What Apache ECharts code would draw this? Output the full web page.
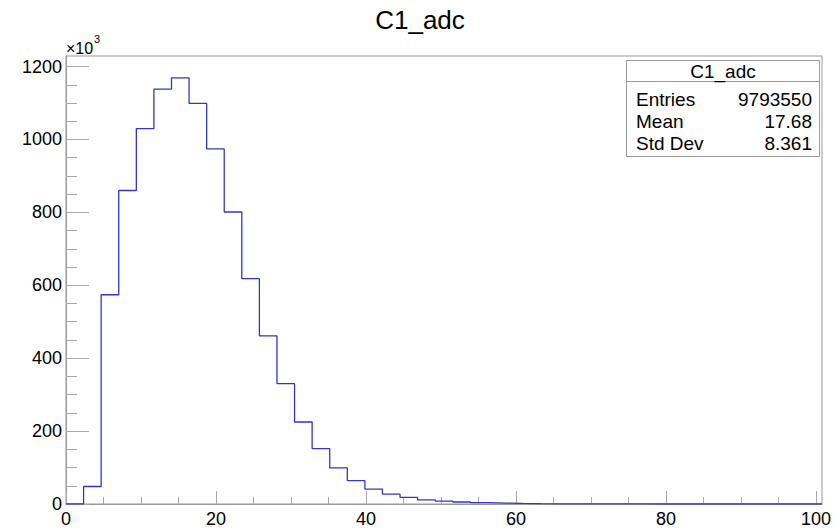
<!DOCTYPE html>
<html><head><meta charset="utf-8">
<script src="https://cdn.jsdelivr.net/npm/echarts@6/dist/echarts.min.js"></script>
<style>html,body{margin:0;padding:0;background:#fff}#c{width:840px;height:531px}</style>
</head><body><div id="c"></div>
<script>
// ---- data ----
const histTitle = 'C1_adc';
const xMin = 0;
const xMax = 100.8;
const nBins = 43;
const binCounts = [0, 48, 574, 860, 1030, 1138, 1169, 1099, 974, 801,
  618, 461, 330, 225, 152, 99, 64, 41, 27, 18,
  11.5, 8, 5.5, 3.5, 2.5, 1.5, 1, 0.6, 0.4, 0.3,
  0.2, 0.15, 0.1, 0.05, 0, 0, 0, 0, 0, 0,
  0, 0, 0]; // in units of 10^3
const yMax = 1229;
const xMajorTicks = [0, 20, 40, 60, 80, 100];
const xMinorTicks = [5, 10, 15, 25, 30, 35, 45, 50, 55, 65, 70, 75, 85, 90, 95];
const yMajorTicks = [0, 200, 400, 600, 800, 1000, 1200];
const yMinorTicks = [50, 100, 150, 250, 300, 350, 450, 500, 550, 650, 700, 750, 850, 900, 950, 1050, 1100, 1150];
const statLabels = ['Entries', 'Mean', 'Std Dev'];
const statValues = ['9793550', '17.68', '8.361'];

// ---- build ----
const binWidth = (xMax - xMin) / nBins;
const stepData = binCounts.map((v, k) => [xMin + k * binWidth, v]);
stepData.push([xMin + nBins * binWidth, binCounts[nBins - 1]]);

const font = 'Liberation Sans, Arial, Helvetica, sans-serif';
const gridPos = { left: 66, top: 56, width: 756, height: 448 };
const lineGray = '#999';
const tickGray = '#aaa';
const plain = v => String(v);

const chart = echarts.init(document.getElementById('c'), null, { renderer: 'svg' });

const statElems = [
  { type: 'rect', shape: { x: 626.5, y: 60.5, width: 193, height: 96 },
    style: { fill: '#fff', stroke: '#999', lineWidth: 1 }, z: 100 },
  { type: 'line', shape: { x1: 626.5, y1: 81.5, x2: 819.5, y2: 81.5 },
    style: { stroke: '#999', lineWidth: 1 }, z: 101 },
  { type: 'text', x: 723, y: 71, z: 101,
    style: { text: histTitle, font: '19px ' + font, fill: '#000', textAlign: 'center', textVerticalAlign: 'middle' } }
];
statLabels.forEach((lab, i) => {
  statElems.push({ type: 'text', x: 636, y: 99 + i * 22, z: 101,
    style: { text: lab, font: '19px ' + font, fill: '#000', textAlign: 'left', textVerticalAlign: 'middle' } });
  statElems.push({ type: 'text', x: 812, y: 99 + i * 22, z: 101,
    style: { text: statValues[i], font: '19px ' + font, fill: '#000', textAlign: 'right', textVerticalAlign: 'middle' } });
});

const option = {
  backgroundColor: '#fff',
  animation: false,
  title: {
    text: histTitle, left: 'center', top: 2,
    textStyle: { fontFamily: font, fontSize: 26, fontWeight: 'normal', color: '#000' }
  },
  grid: [
    Object.assign({ show: true, borderColor: lineGray, borderWidth: 1, backgroundColor: 'transparent' }, gridPos),
    Object.assign({ show: false }, gridPos)
  ],
  xAxis: [
    { type: 'value', gridIndex: 0, min: xMin, max: xMax, position: 'bottom',
      axisLine: { show: true, onZero: false, lineStyle: { color: lineGray, width: 1 } },
      axisTick: { show: true, inside: true, length: 13, customValues: xMajorTicks, lineStyle: { color: tickGray, width: 1 } },
      axisLabel: { customValues: xMajorTicks, formatter: plain, margin: 6, color: '#000', fontFamily: font, fontSize: 18 },
      splitLine: { show: false } },
    { type: 'value', gridIndex: 1, min: xMin, max: xMax, position: 'bottom',
      axisLine: { show: false, onZero: false },
      axisTick: { show: true, inside: true, length: 7, customValues: xMinorTicks, lineStyle: { color: tickGray, width: 1 } },
      axisLabel: { show: false },
      splitLine: { show: false } }
  ],
  yAxis: [
    { type: 'value', gridIndex: 0, min: 0, max: yMax, position: 'left',
      axisLine: { show: true, onZero: false, lineStyle: { color: lineGray, width: 1 } },
      axisTick: { show: true, inside: true, length: 23, customValues: yMajorTicks, lineStyle: { color: tickGray, width: 1 } },
      axisLabel: { customValues: yMajorTicks, formatter: plain, margin: 4, color: '#000', fontFamily: font, fontSize: 18 },
      splitLine: { show: false } },
    { type: 'value', gridIndex: 1, min: 0, max: yMax, position: 'left',
      axisLine: { show: false, onZero: false },
      axisTick: { show: true, inside: true, length: 11, customValues: yMinorTicks, lineStyle: { color: tickGray, width: 1 } },
      axisLabel: { show: false },
      splitLine: { show: false } }
  ],
  series: [{
    type: 'line', xAxisIndex: 0, yAxisIndex: 0,
    data: stepData, step: 'end', showSymbol: false, symbol: 'none',
    lineStyle: { color: '#3535c8', width: 1.3 }, z: 5
  }],
  graphic: [
    { type: 'text', x: 66, y: 40, z: 101,
      style: { text: '×10', font: '16px ' + font, fill: '#000' } },
    { type: 'text', x: 94, y: 33, z: 101,
      style: { text: '3', font: '11px ' + font, fill: '#000' } }
  ].concat(statElems)
};
chart.setOption(option);
</script></body></html>
